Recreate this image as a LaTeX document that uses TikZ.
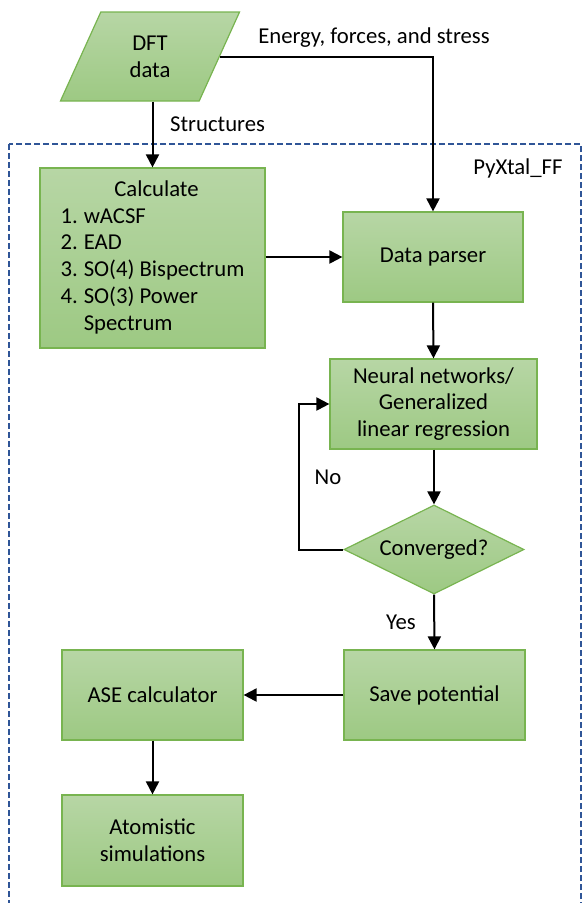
\documentclass[tikz,border=0pt]{standalone}
\usepackage{fontspec}
\setmainfont{Carlito}
\usetikzlibrary{shapes.geometric,arrows.meta}
\definecolor{boxtop}{RGB}{183,214,165}
\definecolor{boxbot}{RGB}{157,201,131}
\definecolor{boxline}{RGB}{120,180,80}
\definecolor{frameblue}{RGB}{47,85,151}
\tikzset{
  gbox/.style={draw=boxline, line width=1.2pt, top color=boxtop, bottom color=boxbot,
    inner sep=0pt, align=center, font=\fontsize{22.7}{26.7}\selectfont},
  rbox/.style={gbox, rectangle, minimum width=181, minimum height=90},
  conn/.style={line width=2pt, -{Triangle[length=13pt,width=13pt]}},
  lbl/.style={font=\fontsize{22.7}{26.7}\selectfont, inner sep=0pt}
}
\begin{document}
\begin{tikzpicture}[x=1pt,y=-1pt]
\useasboundingbox (0,0) rectangle (582,903);
\begin{scope}
\clip (0,0) rectangle (582,903);
\draw[frameblue, line width=2pt, dash pattern=on 6pt off 3pt] (9,144) rectangle (581,960);
\end{scope}

\node[gbox, trapezium, trapezium left angle=68, trapezium right angle=112,
  trapezium stretches=true, minimum width=180, minimum height=89] (dft) at (150,56.5) {DFT\\data};

\node[rbox, minimum width=225, minimum height=180] (calc) at (152.5,258) {%
  \begin{tabular}{@{}r@{\hspace{6pt}}l@{}}
  \multicolumn{2}{c}{\makebox[0pt]{\hspace{8pt}Calculate}}\\[0pt]
  1. & wACSF\\
  2. & EAD\\
  3. & SO(4) Bispectrum\\
  4. & SO(3) Power\\
     & Spectrum
  \end{tabular}};

\node[rbox, minimum width=180] (parser) at (433,257) {Data parser};
\node[rbox, minimum width=207] (nn) at (433.5,404) {Neural networks/\\Generalized\\linear regression};
\node[gbox, diamond, aspect=2, minimum width=180, minimum height=89] (dia) at (434,549.5) {Converged?};
\node[rbox] (save) at (434.5,695) {Save potential};
\node[rbox] (ase) at (152.5,695) {ASE calculator};
\node[rbox, minimum height=91] (atom) at (152.5,840.5) {Atomistic\\simulations};

\node[lbl] (plab) at (518,168) {PyXtal\_FF};
\node[lbl] (elab) at (374,38) {Energy, forces, and stress};
\node[lbl, anchor=west] (slab) at (170,124) {Structures};
\node[lbl] (nolab) at (328,477) {No};
\node[lbl] (yeslab) at (401,622) {Yes};

\coordinate (loop) at (299,549.5);

\draw[conn] (calc.north |- dft.south) -- (calc.north);
\draw[conn] (dft.east) -| (parser.north);
\draw[conn] (calc.east |- parser.west) -- (parser.west);
\draw[conn] (parser.south) -- (nn.north);
\draw[conn] (nn.south -| dia.north) -- (dia.north);
\draw[conn] (dia.west) -- (loop) |- (nn.west);
\draw[conn] (dia.south) -- (save.north);
\draw[conn] (save.west) -- (ase.east);
\draw[conn] (ase.south) -- (atom.north);
\end{tikzpicture}
\end{document}
